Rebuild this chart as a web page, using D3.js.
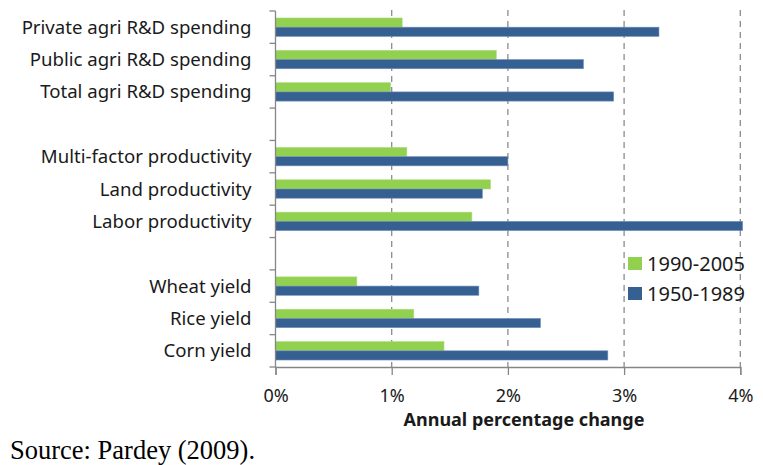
<!DOCTYPE html>
<html>
<head>
<meta charset="utf-8">
<script src="https://cdn.jsdelivr.net/npm/d3@7"></script>
<style>
  body { margin: 0; background: #fff; }
  svg { display: block; }
</style>
</head>
<body>
<div id="chart"></div>
<script>
// rows top to bottom, "" = empty spacer row
const categories = [
  "Private agri R&D spending", "Public agri R&D spending", "Total agri R&D spending", "",
  "Multi-factor productivity", "Land productivity", "Labor productivity", " ",
  "Wheat yield", "Rice yield", "Corn yield"
];
const seriesNames = ["1990-2005", "1950-1989"];
const recent = [1.09, 1.90, 0.99, null, 1.13, 1.85, 1.69, null, 0.70, 1.19, 1.45];
const earlier = [3.30, 2.65, 2.91, null, 2.00, 1.78, 4.02, null, 1.75, 2.28, 2.86];
const xTicks = [0, 1, 2, 3, 4];

const W = 763, H = 465;
const m = { t: 11, r: 23, b: 98, l: 275.5 };
const colors = { "1990-2005": "#92d050", "1950-1989": "#366092" };

const svg = d3.select("#chart").append("svg")
    .attr("width", W).attr("height", H);

const x = d3.scaleLinear().domain([0, 4]).range([m.l, 740.3]);
const y = d3.scaleBand().domain(categories).range([m.t, H - m.b]).padding(0);
const ySub = d3.scaleBand().domain(seriesNames).range([0, y.bandwidth()])
    .paddingInner(0).paddingOuter(0.76);

const yBottom = H - m.b;

// dashed gridlines
svg.append("g").selectAll("line")
    .data(xTicks.slice(1)).enter()
    .append("line")
    .attr("x1", d => x(d)).attr("x2", d => x(d))
    .attr("y1", 10).attr("y2", yBottom)
    .attr("stroke", "#8c8c8c")
    .attr("stroke-width", 1.3)
    .attr("stroke-dasharray", "6,5");

// bars
const rows = categories.map((c, i) => ({ cat: c, vals: [recent[i], earlier[i]] }));
const grp = svg.append("g").selectAll("g")
    .data(rows.filter(r => r.vals[0] != null)).enter()
    .append("g")
    .attr("transform", d => "translate(0," + y(d.cat) + ")");

grp.selectAll("rect")
    .data(d => d.vals.map((v, j) => ({ s: seriesNames[j], v: v }))).enter()
    .append("rect")
    .attr("x", x(0))
    .attr("y", d => ySub(d.s))
    .attr("width", d => x(d.v) - x(0))
    .attr("height", ySub.bandwidth())
    .attr("fill", d => colors[d.s])
    .attr("stroke", d => d.s == "1950-1989" ? "#6f8fb8" : "#a8dc78")
    .attr("stroke-width", 0.6);

// y axis
const yAx = svg.append("g")
    .attr("transform", "translate(" + m.l + ",0)");
yAx.append("line")
    .attr("x1", 0).attr("x2", 0)
    .attr("y1", m.t).attr("y2", yBottom)
    .attr("stroke", "#868686").attr("stroke-width", 1.3);
yAx.selectAll(".ytick")
    .data(categories.concat(["end"])).enter()
    .append("line")
    .attr("class", "ytick")
    .attr("x1", -6).attr("x2", 0)
    .attr("y1", (d, i) => i < categories.length ? y(d) : yBottom)
    .attr("y2", (d, i) => i < categories.length ? y(d) : yBottom)
    .attr("stroke", "#868686").attr("stroke-width", 1.3);
yAx.selectAll(".ylab")
    .data(categories.filter(c => c.trim() != "")).enter()
    .append("text")
    .attr("class", "ylab")
    .attr("x", -24)
    .attr("y", d => y(d) + y.bandwidth() / 2)
    .attr("dy", "0.35em")
    .attr("text-anchor", "end")
    .attr("font-family", "'Noto Sans', sans-serif")
    .attr("font-size", "18.6px")
    .attr("fill", "#1a1a1a")
    .text(d => d);

// x axis
const xAxis = d3.axisBottom(x).tickValues(xTicks)
    .tickFormat(d => d + "%").tickSize(8).tickPadding(14);
const xg = svg.append("g")
    .attr("transform", "translate(0," + yBottom + ")")
    .call(xAxis);
xg.select(".domain").attr("stroke", "#868686").attr("stroke-width", 1.3);
xg.selectAll(".tick line").attr("stroke", "#868686").attr("stroke-width", 1.3)
    .attr("y1", 0);
xg.selectAll(".tick text")
    .attr("font-family", "'Noto Sans', sans-serif")
    .attr("font-size", "18px")
    .attr("fill", "#1a1a1a");

svg.append("text")
    .attr("x", 524).attr("y", 426)
    .attr("text-anchor", "middle")
    .attr("font-family", "'Noto Sans', sans-serif")
    .attr("font-weight", "bold")
    .attr("font-size", "18px")
    .attr("fill", "#1a1a1a")
    .text("Annual percentage change");

// legend
const leg = svg.append("g").selectAll("g")
    .data(seriesNames).enter()
    .append("g")
    .attr("transform", (d, i) => "translate(628," + (257 + i * 30) + ")");
leg.append("rect")
    .attr("width", 14).attr("height", 13)
    .attr("fill", d => colors[d]);
leg.append("text")
    .attr("x", 19).attr("y", 7)
    .attr("dy", "0.35em")
    .attr("font-family", "'Noto Sans', sans-serif")
    .attr("font-size", "20px")
    .attr("fill", "#1a1a1a")
    .text(d => d);

// source note
svg.append("text")
    .attr("x", 10).attr("y", 459)
    .attr("font-family", "'Liberation Serif', serif")
    .attr("font-size", "26.5px")
    .attr("fill", "#000")
    .text("Source: Pardey (2009).");
</script>
</body>
</html>
